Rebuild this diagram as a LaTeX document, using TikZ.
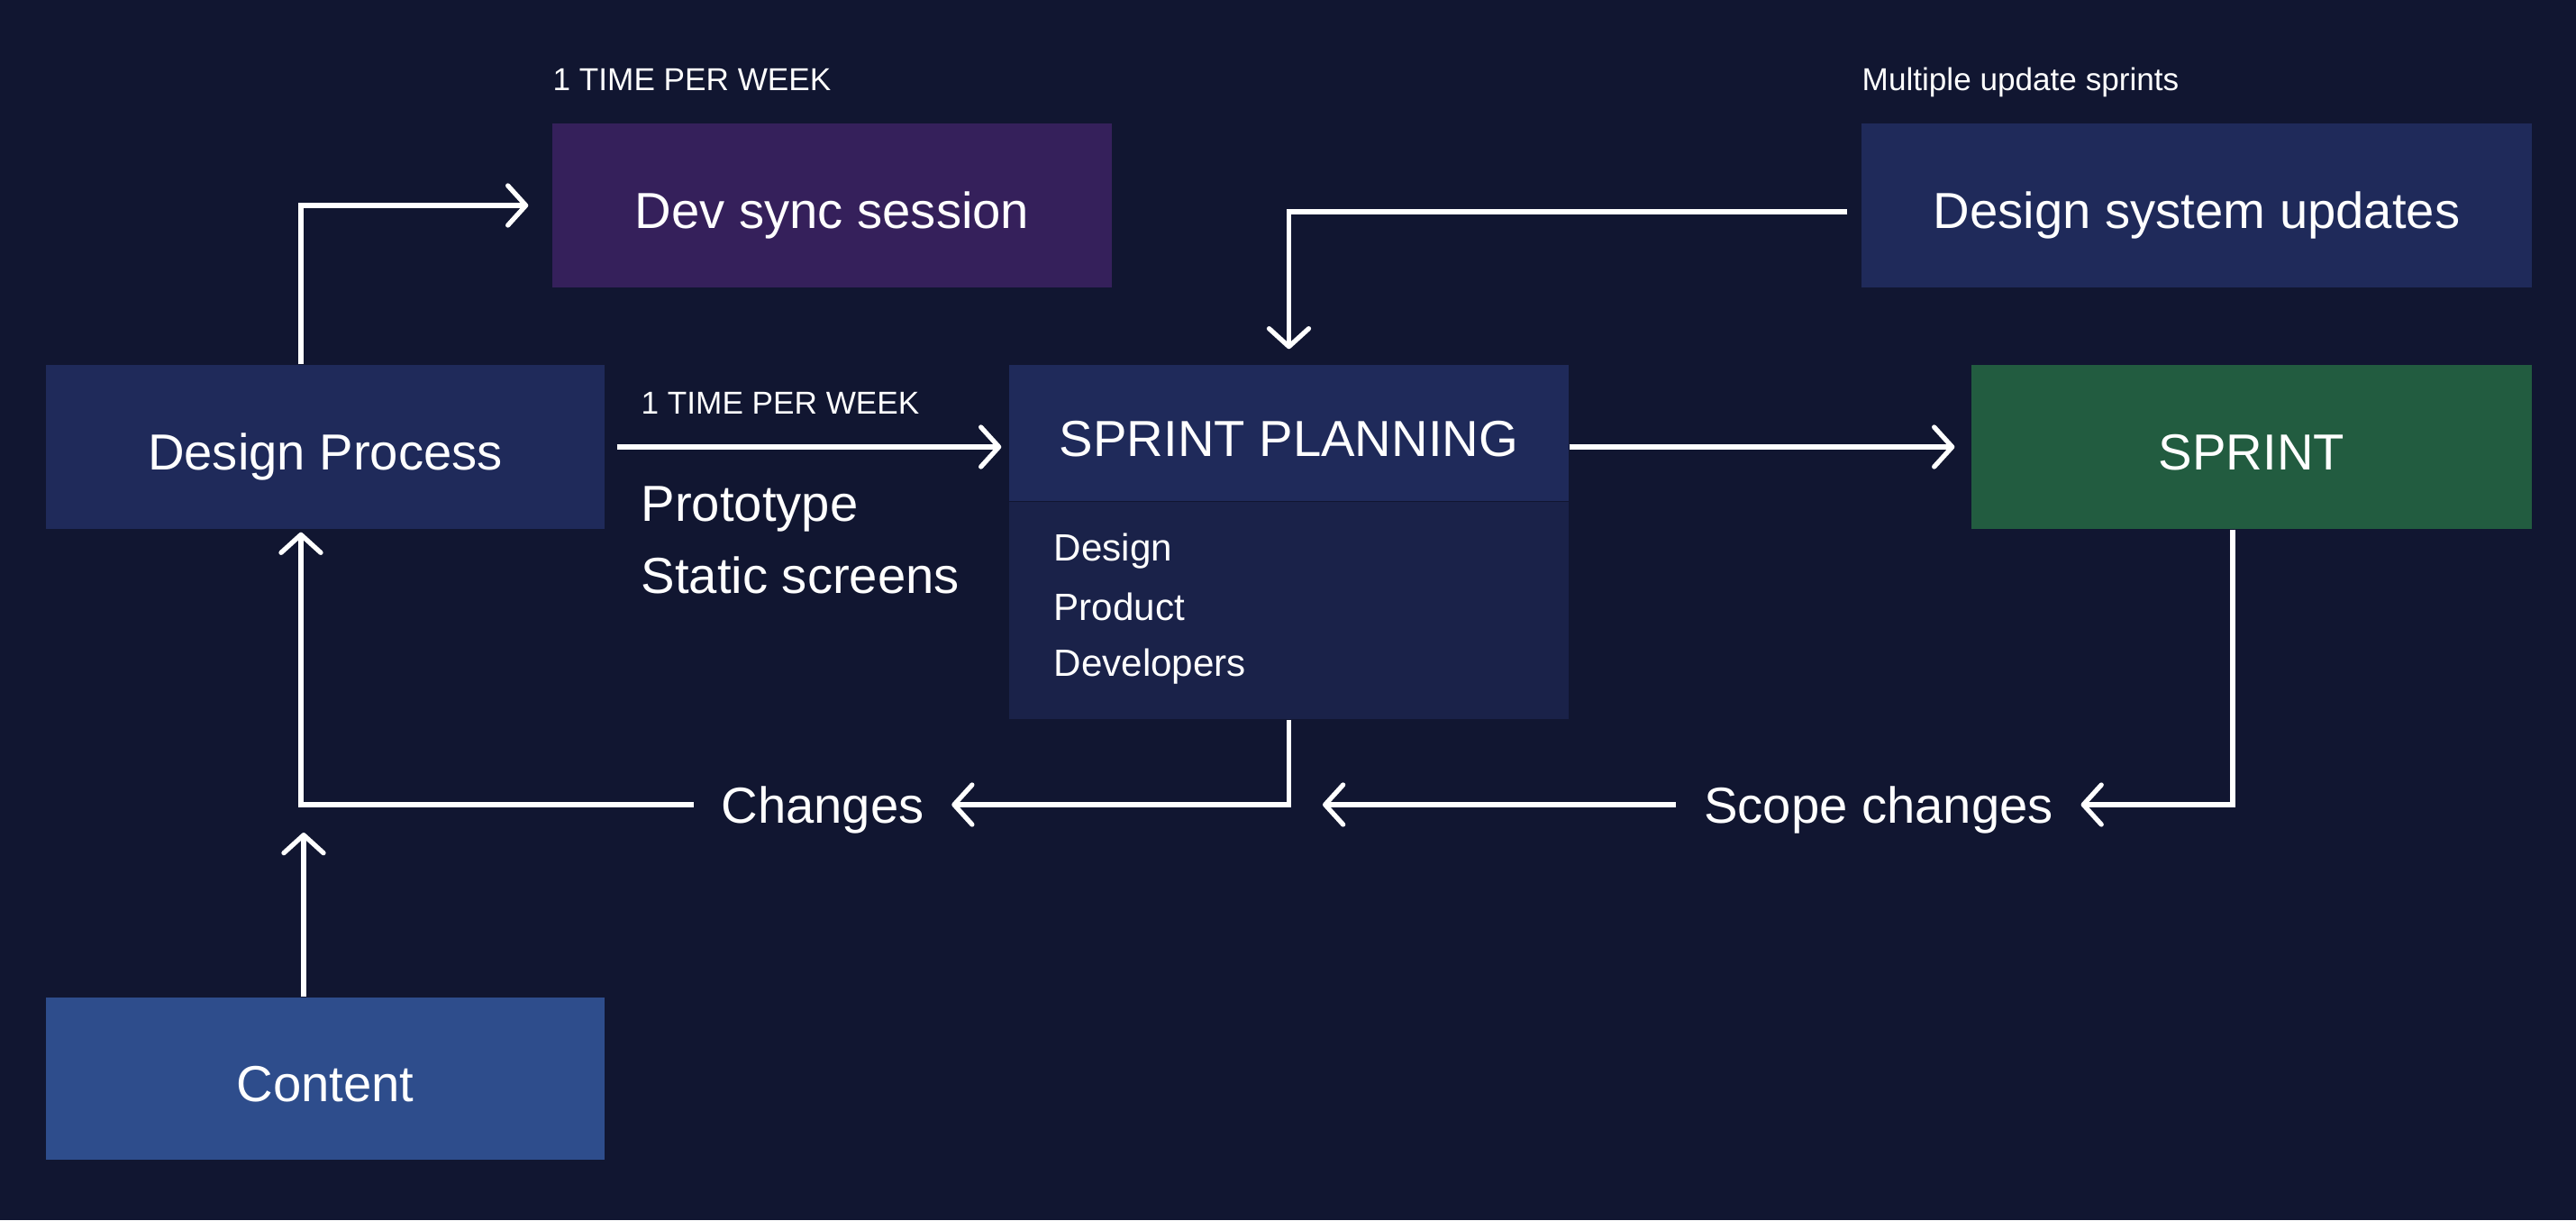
\documentclass[tikz,border=0pt]{standalone}
\usepackage{fontspec}
\setmainfont{Liberation Sans}
\usetikzlibrary{arrows.meta,positioning}
\definecolor{bgnavy}{HTML}{111631}
\definecolor{devpurple}{HTML}{35205B}
\definecolor{boxnavy}{HTML}{1F2A5A}
\definecolor{bodynavy}{HTML}{1A2249}
\definecolor{sprintgreen}{HTML}{225C40}
\definecolor{contentblue}{HTML}{2E4D8C}

\begin{document}
\begin{tikzpicture}[
    box/.style={fill=#1, text=white, minimum height=1.82cm, inner sep=0pt,
        font=\fontsize{16}{19}\selectfont, text height=14.6pt, text depth=0pt},
    small/.style={text=white, inner sep=0pt, anchor=west,
        font=\fontsize{10}{12}\selectfont, text height=7.16pt, text depth=0pt},
    item/.style={text=white, inner sep=0pt, anchor=west,
        font=\fontsize{12}{14}\selectfont, text height=8.6pt, text depth=0pt},
    bigitem/.style={text=white, inner sep=0pt, anchor=west,
        font=\fontsize{16}{19}\selectfont, text height=11.46pt, text depth=0pt},
    flowlabel/.style={text=white, inner ysep=0pt, inner xsep=0.3cm,
        font=\fontsize{16}{19}\selectfont, text height=11.46pt, text depth=0pt},
    flow/.style={draw=white, line width=1.5pt,
        -{Straight Barb[length=0.2cm,width=0.44cm,round]}}
]
    %background
    \fill[bgnavy] (0,0) rectangle (28.59,13.54);
    \useasboundingbox (0,0) rectangle (28.59,13.54);

    %boxes
    \node[box=boxnavy, minimum width=6.20cm] (dp) at (3.61,8.58) {Design Process};
    \node[box=devpurple, minimum width=6.21cm] (dev) at (9.235,11.26) {Dev sync session};
    \node[box=boxnavy, minimum width=6.21cm, minimum height=1.51cm] (spHead) at (14.305,8.735) {SPRINT PLANNING};
    \node[box=bodynavy, minimum width=6.21cm, minimum height=2.41cm, below=0cm of spHead] (spBody) {};
    \node[box=boxnavy, minimum width=7.44cm] (dsu) at (24.38,11.26) {Design system updates};
    \node[box=sprintgreen, minimum width=6.22cm] (sprint) at (24.99,8.58) {SPRINT};
    \node[box=contentblue, minimum width=6.20cm, minimum height=1.80cm] (content) at (3.61,1.57) {Content};

    %small labels
    \node[small] (weekTop) at (6.13,12.66) {1 TIME PER WEEK};
    \node[small] (weekMid) at (7.11,9.07) {1 TIME PER WEEK};
    \node[small] (multi) at (20.66,12.66) {Multiple update sprints};
    \node[bigitem] (proto) at (7.11,7.96) {Prototype};
    \node[bigitem] (static) at (7.11,7.16) {Static screens};

    %sprint planning members
    \node[item] (itemDesign) at (11.69,7.47) {Design};
    \node[item] (itemProduct) at (11.69,6.81) {Product};
    \node[item] (itemDev) at (11.69,6.19) {Developers};

    %loop labels
    \node[flowlabel] (chg) at (9.13,4.61) {Changes};
    \node[flowlabel] (scope) at (20.85,4.61) {Scope changes};
    \coordinate (scopeEnd) at (14.68,4.61);
    \coordinate (joinPt) at (3.37,4.30);

    %connectors
    \draw[flow, shorten >=0.26cm] ([xshift=-0.27cm]dp.north) |- (dev.west);
    \draw[flow, shorten <=0.13cm, shorten >=0.08cm] (dp.east) -- (dp.east -| spHead.west);
    \draw[flow, shorten >=0.18cm] (spHead.east |- sprint.west) -- (sprint.west);
    \draw[flow, shorten <=0.15cm, shorten >=0.17cm] ([yshift=-0.07cm]dsu.west) -| (spHead.north);
    \draw[flow] ([xshift=-0.21cm]sprint.south) |- (scope.east);
    \draw[flow] (scope.west) -- (scopeEnd);
    \draw[flow] (spBody.south) |- (chg.east);
    \draw[flow, shorten >=0.03cm] (chg.west) -| ([xshift=-0.27cm]dp.south);
    \draw[flow] ([xshift=-0.24cm]content.north) -- (joinPt);
\end{tikzpicture}
\end{document}
